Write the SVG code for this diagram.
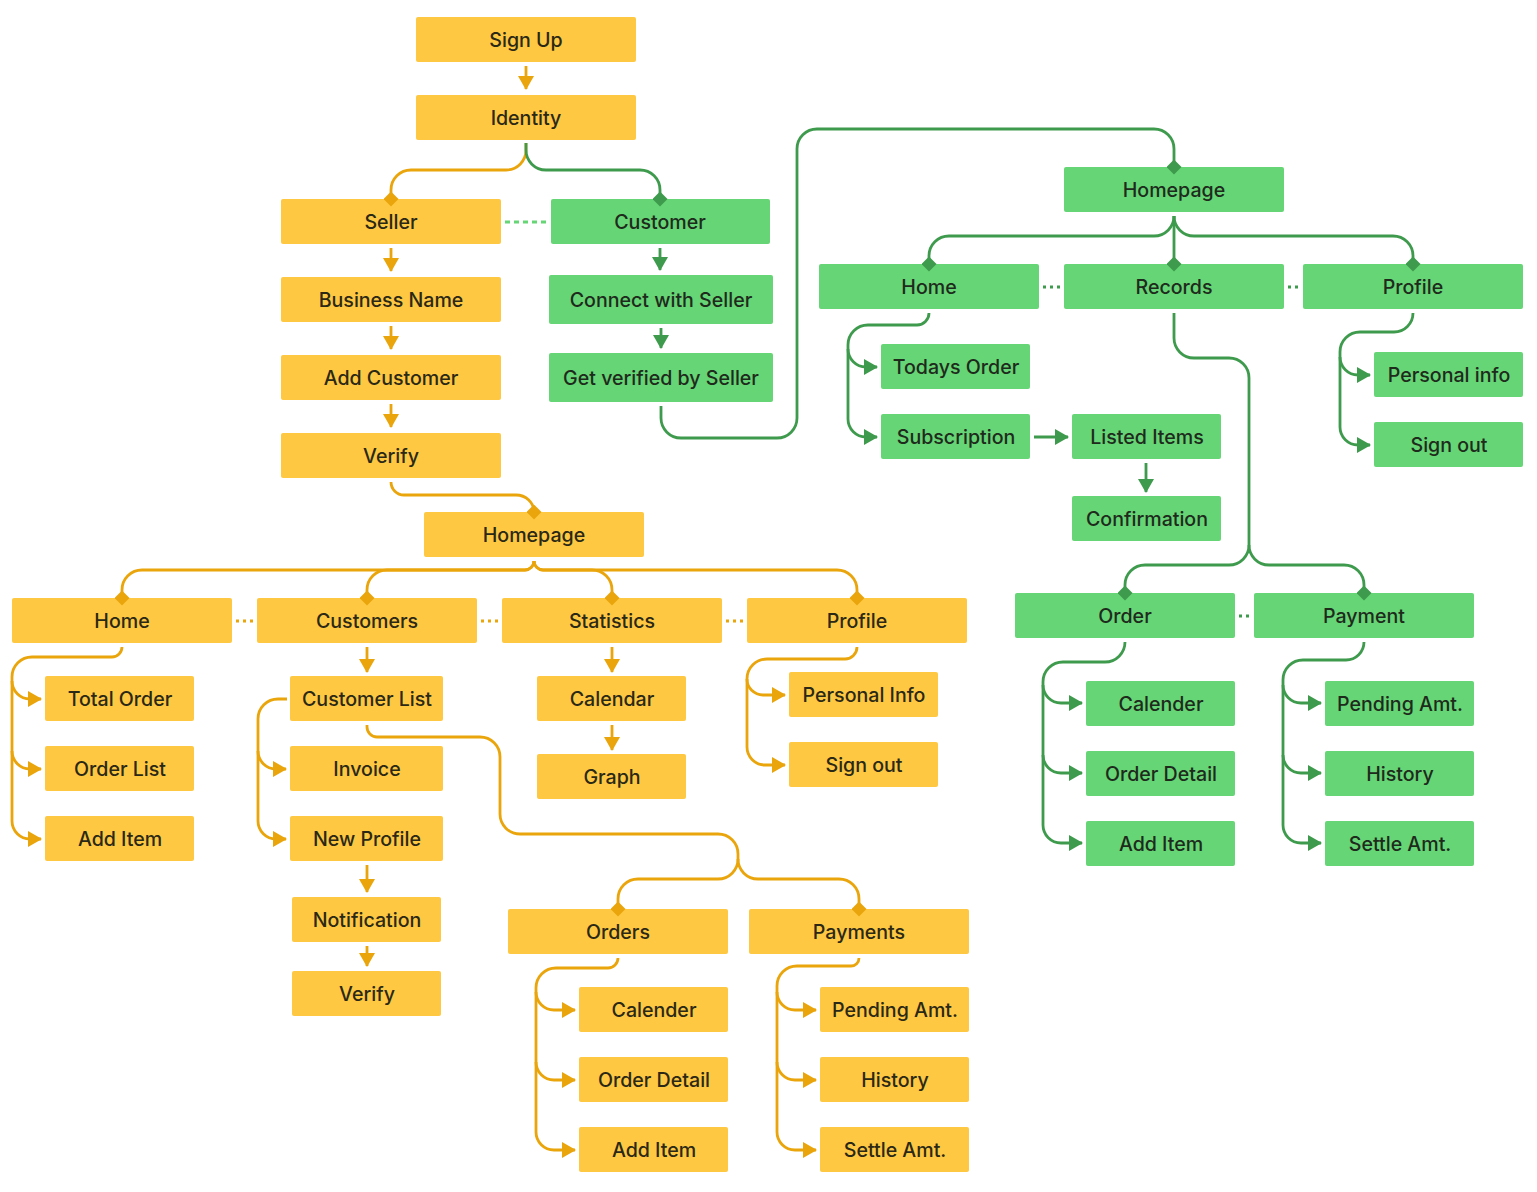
<svg xmlns="http://www.w3.org/2000/svg" width="1537" height="1192" viewBox="0 0 1537 1192">
<style>
.y rect{fill:#FEC843}
.g rect{fill:#66D575}
g rect{rx:2}
text{font-family:Inter,"Noto Sans","Liberation Sans",sans-serif;font-size:19.6px;font-weight:500;text-anchor:middle;dominant-baseline:central;fill:#2b2815}
.g text{fill:#1e2a1c}
.cy{fill:none;stroke:#E9A50B;stroke-width:2.8}
.cg{fill:none;stroke:#3E9A4C;stroke-width:2.8}
.ay{marker-end:url(#ay)}
.ag{marker-end:url(#ag)}
.dy{marker-end:url(#dy)}
.dg{marker-end:url(#dg)}
.doty{fill:none;stroke:#E9A50B;stroke-width:2.8;stroke-dasharray:3 4}
.dotg{fill:none;stroke:#3E9A4C;stroke-width:2.8;stroke-dasharray:3 4}
.dotl{fill:none;stroke:#66D575;stroke-width:3;stroke-dasharray:5 4}
</style>
<defs>
<marker id="ay" viewBox="0 0 14 16" refX="13" refY="8" markerWidth="14" markerHeight="16" markerUnits="userSpaceOnUse" orient="auto"><path d="M0,0L14,8L0,16Z" fill="#E9A50B"/></marker>
<marker id="ag" viewBox="0 0 14 16" refX="13" refY="8" markerWidth="14" markerHeight="16" markerUnits="userSpaceOnUse" orient="auto"><path d="M0,0L14,8L0,16Z" fill="#3E9A4C"/></marker>
<marker id="dy" viewBox="0 0 14 14" refX="7" refY="7" markerWidth="15" markerHeight="15" markerUnits="userSpaceOnUse" orient="auto"><path d="M0,7L7,0L14,7L7,14Z" fill="#E9A50B"/></marker>
<marker id="dg" viewBox="0 0 14 14" refX="7" refY="7" markerWidth="15" markerHeight="15" markerUnits="userSpaceOnUse" orient="auto"><path d="M0,7L7,0L14,7L7,14Z" fill="#3E9A4C"/></marker>
</defs>

<g class="y">
<g id="signup"><rect x="416" y="17" width="220" height="45"/><text x="526" y="40">Sign Up</text></g>
<g id="identity"><rect x="416" y="95" width="220" height="45"/><text x="526" y="118">Identity</text></g>
<g id="seller"><rect x="281" y="199" width="220" height="45"/><text x="391" y="222">Seller</text></g>
<g id="business-name"><rect x="281" y="277" width="220" height="45"/><text x="391" y="300">Business Name</text></g>
<g id="add-customer"><rect x="281" y="355" width="220" height="45"/><text x="391" y="378">Add Customer</text></g>
<g id="verify1"><rect x="281" y="433" width="220" height="45"/><text x="391" y="456">Verify</text></g>
<g id="homepage-s"><rect x="424" y="512" width="220" height="45"/><text x="534" y="535">Homepage</text></g>
<g id="home-s"><rect x="12" y="598" width="220" height="45"/><text x="122" y="621">Home</text></g>
<g id="customers"><rect x="257" y="598" width="220" height="45"/><text x="367" y="621">Customers</text></g>
<g id="statistics"><rect x="502" y="598" width="220" height="45"/><text x="612" y="621">Statistics</text></g>
<g id="profile-s"><rect x="747" y="598" width="220" height="45"/><text x="857" y="621">Profile</text></g>
<g id="total-order"><rect x="45" y="676" width="149" height="45"/><text x="120" y="699">Total Order</text></g>
<g id="order-list"><rect x="45" y="746" width="149" height="45"/><text x="120" y="769">Order List</text></g>
<g id="add-item-s"><rect x="45" y="816" width="149" height="45"/><text x="120" y="839">Add Item</text></g>
<g id="customer-list"><rect x="290" y="676" width="153" height="45"/><text x="367" y="699">Customer List</text></g>
<g id="invoice"><rect x="290" y="746" width="153" height="45"/><text x="367" y="769">Invoice</text></g>
<g id="new-profile"><rect x="290" y="816" width="153" height="45"/><text x="367" y="839">New Profile</text></g>
<g id="notification"><rect x="292" y="897" width="149" height="45"/><text x="367" y="920">Notification</text></g>
<g id="verify2"><rect x="292" y="971" width="149" height="45"/><text x="367" y="994">Verify</text></g>
<g id="calendar"><rect x="537" y="676" width="149" height="45"/><text x="612" y="699">Calendar</text></g>
<g id="graph"><rect x="537" y="754" width="149" height="45"/><text x="612" y="777">Graph</text></g>
<g id="personal-info-s"><rect x="789" y="672" width="149" height="45"/><text x="864" y="695">Personal Info</text></g>
<g id="sign-out-s"><rect x="789" y="742" width="149" height="45"/><text x="864" y="765">Sign out</text></g>
<g id="orders"><rect x="508" y="909" width="220" height="45"/><text x="618" y="932">Orders</text></g>
<g id="payments"><rect x="749" y="909" width="220" height="45"/><text x="859" y="932">Payments</text></g>
<g id="calender-s"><rect x="579" y="987" width="149" height="45"/><text x="654" y="1010">Calender</text></g>
<g id="order-detail-s"><rect x="579" y="1057" width="149" height="45"/><text x="654" y="1080">Order Detail</text></g>
<g id="add-item-s2"><rect x="579" y="1127" width="149" height="45"/><text x="654" y="1150">Add Item</text></g>
<g id="pending-s"><rect x="820" y="987" width="149" height="45"/><text x="895" y="1010">Pending Amt.</text></g>
<g id="history-s"><rect x="820" y="1057" width="149" height="45"/><text x="895" y="1080">History</text></g>
<g id="settle-s"><rect x="820" y="1127" width="149" height="45"/><text x="895" y="1150">Settle Amt.</text></g>
</g>

<g class="g">
<g id="customer"><rect x="551" y="199" width="219" height="45"/><text x="660" y="222">Customer</text></g>
<g id="connect"><rect x="549" y="275" width="224" height="49"/><text x="661" y="300">Connect with Seller</text></g>
<g id="get-verified"><rect x="549" y="353" width="224" height="49"/><text x="661" y="378">Get verified by Seller</text></g>
<g id="homepage-c"><rect x="1064" y="167" width="220" height="45"/><text x="1174" y="190">Homepage</text></g>
<g id="home-c"><rect x="819" y="264" width="220" height="45"/><text x="929" y="287">Home</text></g>
<g id="records"><rect x="1064" y="264" width="220" height="45"/><text x="1174" y="287">Records</text></g>
<g id="profile-c"><rect x="1303" y="264" width="220" height="45"/><text x="1413" y="287">Profile</text></g>
<g id="todays-order"><rect x="881" y="344" width="149" height="45"/><text x="956" y="367">Todays Order</text></g>
<g id="subscription"><rect x="881" y="414" width="149" height="45"/><text x="956" y="437">Subscription</text></g>
<g id="listed-items"><rect x="1072" y="414" width="149" height="45"/><text x="1147" y="437">Listed Items</text></g>
<g id="confirmation"><rect x="1072" y="496" width="149" height="45"/><text x="1147" y="519">Confirmation</text></g>
<g id="personal-info-c"><rect x="1374" y="352" width="149" height="45"/><text x="1449" y="375">Personal info</text></g>
<g id="sign-out-c"><rect x="1374" y="422" width="149" height="45"/><text x="1449" y="445">Sign out</text></g>
<g id="order-c"><rect x="1015" y="593" width="220" height="45"/><text x="1125" y="616">Order</text></g>
<g id="payment-c"><rect x="1254" y="593" width="220" height="45"/><text x="1364" y="616">Payment</text></g>
<g id="calender-c"><rect x="1086" y="681" width="149" height="45"/><text x="1161" y="704">Calender</text></g>
<g id="order-detail-c"><rect x="1086" y="751" width="149" height="45"/><text x="1161" y="774">Order Detail</text></g>
<g id="add-item-c"><rect x="1086" y="821" width="149" height="45"/><text x="1161" y="844">Add Item</text></g>
<g id="pending-c"><rect x="1325" y="681" width="149" height="45"/><text x="1400" y="704">Pending Amt.</text></g>
<g id="history-c"><rect x="1325" y="751" width="149" height="45"/><text x="1400" y="774">History</text></g>
<g id="settle-c"><rect x="1325" y="821" width="149" height="45"/><text x="1400" y="844">Settle Amt.</text></g>
</g>

<g id="connectors">
<path class="cy ay" d="M526,66V89"/>
<path class="cy dy" d="M526,143V150A20,20 0 0 1 506,170H411A20,20 0 0 0 391,190V199"/>
<path class="cg dg" d="M526,143V150A20,20 0 0 0 546,170H640A20,20 0 0 1 660,190V199"/>
<path class="dotl" d="M505,222H548"/>
<path class="cy ay" d="M391,248V271"/>
<path class="cy ay" d="M391,326V349"/>
<path class="cy ay" d="M391,404V427"/>
<path class="cy dy" d="M391,482A13,13 0 0 0 404,495H516A18,17 0 0 1 534,512"/>
<path class="cy dy" d="M534,561A9,9 0 0 1 525,570H142A20,20 0 0 0 122,590V598"/>
<path class="cy dy" d="M534,561A9,9 0 0 1 525,570H387A20,20 0 0 0 367,590V598"/>
<path class="cy dy" d="M534,561A9,9 0 0 0 543,570H592A20,20 0 0 1 612,590V598"/>
<path class="cy dy" d="M534,561A9,9 0 0 0 543,570H837A20,20 0 0 1 857,590V598"/>
<path class="doty" d="M236,621H254"/>
<path class="doty" d="M481,621H499"/>
<path class="doty" d="M726,621H744"/>
<path class="cy ay" d="M122,647A10,10 0 0 1 112,657H32A20,20 0 0 0 12,677V821A18,18 0 0 0 30,839H41"/>
<path class="cy ay" d="M12,681A18,18 0 0 0 30,699H41"/>
<path class="cy ay" d="M12,751A18,18 0 0 0 30,769H41"/>
<path class="cy ay" d="M367,647V672"/>
<path class="cy ay" d="M287,699H278A20,20 0 0 0 258,719V821A18,18 0 0 0 276,839H286"/>
<path class="cy ay" d="M258,751A18,18 0 0 0 276,769H286"/>
<path class="cy ay" d="M367,865V892"/>
<path class="cy ay" d="M367,946V966"/>
<path class="cy dy" d="M367,725V727A10,10 0 0 0 377,737H480A20,20 0 0 1 500,757V814A20,20 0 0 0 520,834H718A20,20 0 0 1 738,854V859A20,20 0 0 1 718,879H638A20,20 0 0 0 618,899V909"/>
<path class="cy dy" d="M738,859A20,20 0 0 0 758,879H839A20,20 0 0 1 859,899V909"/>
<path class="cy ay" d="M612,647V672"/>
<path class="cy ay" d="M612,725V750"/>
<path class="cy ay" d="M857,647A12,12 0 0 1 845,659H767A20,20 0 0 0 747,679V747A18,18 0 0 0 765,765H785"/>
<path class="cy ay" d="M747,679A16,16 0 0 0 763,695H785"/>
<path class="cy ay" d="M618,958A10,10 0 0 1 608,968H556A20,20 0 0 0 536,988V1132A18,18 0 0 0 554,1150H575"/>
<path class="cy ay" d="M536,992A18,18 0 0 0 554,1010H575"/>
<path class="cy ay" d="M536,1062A18,18 0 0 0 554,1080H575"/>
<path class="cy ay" d="M859,958A8,8 0 0 1 851,966H797A20,20 0 0 0 777,986V1132A18,18 0 0 0 795,1150H816"/>
<path class="cy ay" d="M777,992A18,18 0 0 0 795,1010H816"/>
<path class="cy ay" d="M777,1062A18,18 0 0 0 795,1080H816"/>
<path class="cg ag" d="M660,248V270"/>
<path class="cg ag" d="M661,328V348"/>
<path class="cg dg" d="M661,406V418A20,20 0 0 0 681,438H777A20,20 0 0 0 797,418V149A20,20 0 0 1 817,129H1154A20,20 0 0 1 1174,149V167"/>
<path class="cg dg" d="M1174,216A20,20 0 0 1 1154,236H949A20,20 0 0 0 929,256V264"/>
<path class="cg dg" d="M1174,216V264"/>
<path class="cg dg" d="M1174,216A20,20 0 0 0 1194,236H1393A20,20 0 0 1 1413,256V264"/>
<path class="dotg" d="M1043,287H1061"/>
<path class="dotg" d="M1288,287H1300"/>
<path class="cg ag" d="M929,313A12,12 0 0 1 917,325H868A20,20 0 0 0 848,345V419A18,18 0 0 0 866,437H877"/>
<path class="cg ag" d="M848,349A18,18 0 0 0 866,367H877"/>
<path class="cg ag" d="M1034,437H1068"/>
<path class="cg ag" d="M1146,463V492"/>
<path class="cg dg" d="M1174,313V338A20,20 0 0 0 1194,358H1229A20,20 0 0 1 1249,378V545A20,20 0 0 1 1229,565H1145A20,20 0 0 0 1125,585V593"/>
<path class="cg dg" d="M1249,545A20,20 0 0 0 1269,565H1344A20,20 0 0 1 1364,585V593"/>
<path class="cg ag" d="M1413,313A19,19 0 0 1 1394,332H1360A20,20 0 0 0 1340,352V427A18,18 0 0 0 1358,445H1370"/>
<path class="cg ag" d="M1340,357A18,18 0 0 0 1358,375H1370"/>
<path class="dotg" d="M1239,616H1251"/>
<path class="cg ag" d="M1125,642A20,20 0 0 1 1105,662H1063A20,20 0 0 0 1043,682V825A18,18 0 0 0 1061,843H1082"/>
<path class="cg ag" d="M1043,685A18,18 0 0 0 1061,703H1082"/>
<path class="cg ag" d="M1043,755A18,18 0 0 0 1061,773H1082"/>
<path class="cg ag" d="M1364,642A18,18 0 0 1 1346,660H1303A20,20 0 0 0 1283,680V825A18,18 0 0 0 1301,843H1321"/>
<path class="cg ag" d="M1283,685A18,18 0 0 0 1301,703H1321"/>
<path class="cg ag" d="M1283,755A18,18 0 0 0 1301,773H1321"/>
</g>
</svg>
